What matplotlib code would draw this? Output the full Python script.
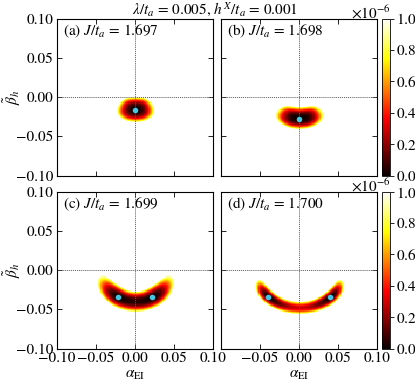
import numpy as np
import matplotlib
matplotlib.use('Agg')
import matplotlib.pyplot as plt
from matplotlib.ticker import ScalarFormatter

plt.rcParams['font.family'] = ['STIXGeneral', 'DejaVu Serif']
plt.rcParams['mathtext.fontset'] = 'stix'
plt.rcParams['font.size'] = 11

# ---------------- data ----------------
panel_labels = ['(a)', '(b)', '(c)', '(d)']
J_values = ['1.697', '1.698', '1.699', '1.700']
title_text = r'$\lambda/t_a$ = 0.005, $h^X/t_a$ = 0.001'
offset_text = r'$\times10^{-6}$'

# energy minima (cyan dots), mirrored in alpha when alpha != 0
min_alpha = [0.0, 0.0, 0.022, 0.0398]
min_beta = [-0.017, -0.028, -0.034, -0.034]

# valley: lowest beta of its centre line, its radii of curvature
valley_bottom = [-0.017, -0.028, -0.040, -0.048]
valley_radius_alpha = [0.050, 0.043, 0.046, 0.0515]
valley_radius_beta = [0.050, 0.043, 0.046, 0.038]
# angle (deg, from straight down) where the valley ends (energy = 1e-6)
valley_end_angle = [27.0, 41.0, 74.0, 88.0]
# energy along the valley at alpha = 0 (units of 1e-6)
barrier = [0.0, 0.0, 0.04, 0.29]
# steepness along the valley for single-minimum panels
along_power = [2.5, 3.0, 2.0, 2.0]
# half width of the valley (energy = 1e-6) and steepness across it
valley_width = [0.0165, 0.0145, 0.0135, 0.0095]
cross_power = [2.5, 2.5, 2.2, 2.0]

vmax = 1e-6
alpha_grid = np.arange(-0.1, 0.1001, 0.0015)
beta_grid = np.arange(-0.1, 0.1001, 0.0015)
cbar_ticks = [0.0, 0.2e-6, 0.4e-6, 0.6e-6, 0.8e-6, 1.0e-6]
axis_ticks = [-0.10, -0.05, 0.00, 0.05, 0.10]
axis_ticklabels = ['\u22120.10', '\u22120.05', '0.00', '0.05', '0.10']


def energy_field(i):
    A, B = np.meshgrid(alpha_grid, beta_grid)
    Rx, Ry = valley_radius_alpha[i], valley_radius_beta[i]
    c = valley_bottom[i] + Ry
    X = A / Rx
    Y = (c - B) / Ry
    t = np.abs(np.arctan2(X, Y))
    rho_n = np.hypot(X, Y) + 1e-12
    rho = np.hypot(A, B - c)
    d = rho * (1 - 1 / rho_n)
    te = np.deg2rad(valley_end_angle[i])
    am = min_alpha[i]
    if am == 0:
        G = (t / te) ** along_power[i]
    else:
        tm = np.arcsin(am / Rx)
        inner = barrier[i] * (1 - (t / tm) ** 2) ** 2
        outer = ((t - tm) / (te - tm)) ** 2
        G = np.where(t < tm, inner, outer)
    E = G + np.abs(d / valley_width[i]) ** cross_power[i]
    return E * vmax


# ---------------- layout ----------------
fig = plt.figure(figsize=(4.15, 3.84), dpi=100)
W, H = 415.0, 384.0
col_x = [56.5, 220.5]
ax_w = 156.5
row_y = [18.5, 191.5]
ax_h = 157.0
cb_x = 381.7
cb_w = 8.3

axes = []
for r in range(2):
    for c in range(2):
        left = col_x[c] / W
        bottom = 1 - (row_y[r] + ax_h) / H
        ax = fig.add_axes([left, bottom, ax_w / W, ax_h / H])
        axes.append(ax)

cmap = plt.get_cmap('hot').copy()
cmap.set_over('white')

ims = []
for i, ax in enumerate(axes):
    E = energy_field(i)
    im = ax.imshow(E, origin='lower', cmap=cmap, vmin=0, vmax=vmax,
                   extent=[alpha_grid[0], alpha_grid[-1], beta_grid[0], beta_grid[-1]],
                   aspect='auto', interpolation='nearest')
    ims.append(im)
    ax.axhline(0, color='0.35', lw=0.7, ls=(0, (1, 1)))
    ax.axvline(0, color='0.35', lw=0.7, ls=(0, (1, 1)))
    if min_alpha[i] == 0:
        pa, pb = [min_alpha[i]], [min_beta[i]]
    else:
        pa, pb = [-min_alpha[i], min_alpha[i]], [min_beta[i], min_beta[i]]
    ax.plot(pa, pb, 'o', color='#45c6e3', ms=4, mec='none')
    ax.set_xlim(-0.1, 0.1)
    ax.set_ylim(-0.1, 0.1)
    ax.set_xticks(axis_ticks)
    ax.set_yticks(axis_ticks)
    ax.tick_params(direction='in', top=True, right=True, length=3.5, width=0.6, pad=2.5)
    for s in ax.spines.values():
        s.set_linewidth(0.8)
    ax.text(0.04, 0.975, panel_labels[i] + r' $J/t_a$ = ' + J_values[i],
            transform=ax.transAxes, ha='left', va='top')
    col = i % 2
    row = i // 2
    if col == 0:
        ax.set_yticklabels(axis_ticklabels)
        ax.set_ylabel(r'$\tilde{\beta}_h$')
        ax.yaxis.set_label_coords(-0.215, 0.5)
    else:
        ax.set_yticklabels([])
    if row == 1:
        labs = list(axis_ticklabels)
        if col == 1:
            labs[0] = ''
        ax.set_xticklabels(labs)
        ax.set_xlabel(r'$\alpha_{\rm EI}$', labelpad=2)
    else:
        ax.set_xticklabels([])

offset_y = [13.0, 186.0]
for r in range(2):
    bottom = 1 - (row_y[r] + ax_h) / H
    cax = fig.add_axes([cb_x / W, bottom, cb_w / W, ax_h / H])
    fmt = ScalarFormatter(useMathText=True)
    fmt.set_powerlimits((0, 0))
    cb = fig.colorbar(ims[2 * r], cax=cax, ticks=cbar_ticks, format=fmt)
    cb.ax.tick_params(length=3, width=0.6, pad=1)
    cb.outline.set_linewidth(0.6)
    cb.ax.yaxis.get_offset_text().set_visible(False)
    fig.text(391.0 / W, 1 - offset_y[r] / H, offset_text, ha='right', va='center')

fig.text(0.518, 0.977, title_text, ha='center', va='center')

fig.savefig('out.png', dpi=100)
